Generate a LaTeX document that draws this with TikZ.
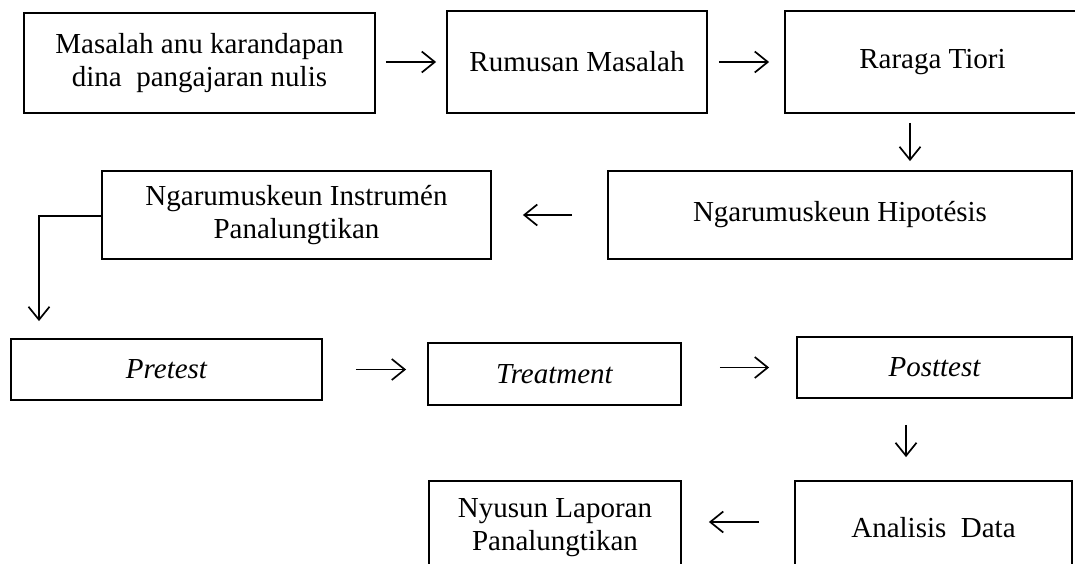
\documentclass[tikz,border=0pt]{standalone}
\usepackage{fontspec}
\setmainfont{Liberation Serif}
\usetikzlibrary{arrows.meta}
\tikzset{
  box/.style={draw, line width=1.8pt, inner sep=0pt, align=center, font=\fontsize{29}{33}\selectfont},
  arr/.style={line width=1.7pt, -{Straight Barb[length=13pt,width=21pt,line width=1.7pt]}}
}
\begin{document}
\begin{tikzpicture}[x=1pt,y=-1pt]
\useasboundingbox (0,0) rectangle (1075,564);
\node[box, minimum width=351pt, minimum height=100pt] (m) at (199.5,63) {Masalah anu karandapan\\dina\ \ pangajaran nulis};
\node[box, minimum width=260pt, minimum height=102pt] (r) at (577,62) {Rumusan Masalah};
\node[box, minimum width=295pt, minimum height=102pt] (t) at (932.5,62) {Raraga Tiori};
\node[box, minimum width=464pt, minimum height=88pt] (h) at (840,215) {Ngarumuskeun Hipotésis};
\node[box, minimum width=389pt, minimum height=88pt] (i) at (296.5,215) {Ngarumuskeun Instrumén\\Panalungtikan};
\node[box, minimum width=311pt, minimum height=61pt] (p) at (166.5,369.5) {\itshape Pretest};
\node[box, minimum width=253pt, minimum height=62pt] (tr) at (554.5,374) {\itshape Treatment};
\node[box, minimum width=275pt, minimum height=61pt] (po) at (934.5,367.5) {\itshape Posttest};
\node[box, minimum width=277pt, minimum height=94pt] (an) at (933.5,528) {Analisis\ \ Data};
\node[box, minimum width=252pt, minimum height=94pt] (ny) at (555,528) {Nyusun Laporan\\Panalungtikan};

\draw[arr, shorten <=10pt, shorten >=10pt] (m.east |- r.west) -- (r.west);
\draw[arr, shorten <=11pt, shorten >=15pt] (r.east) -- (t.west);
\draw[arr, shorten <=9pt, shorten >=9pt] ([xshift=-22.5pt]t.south) -- ([xshift=-22.5pt]t.south |- h.north);
\draw[arr, shorten <=35pt, shorten >=31pt] (h.west) -- (i.west -| i.east);
\draw[arr, shorten >=17pt] ([yshift=-1pt]i.west) -| ([xshift=-127.5pt]p.north);
\draw[arr, shorten <=33pt, shorten >=21pt] (p.east) -- (p.east -| tr.west);
\draw[arr, shorten <=38pt, shorten >=27pt] (po.west -| tr.east) -- (po.west);
\draw[arr, shorten <=26pt, shorten >=23pt] ([xshift=-28.5pt]po.south) -- ([xshift=-28.5pt]po.south |- an.north);
\draw[arr, shorten <=35pt, shorten >=27pt] ([yshift=6pt]an.west) -- ([yshift=6pt]an.west -| ny.east);
\end{tikzpicture}
\end{document}
